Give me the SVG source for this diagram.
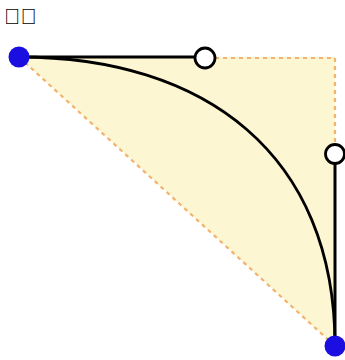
<svg xmlns="http://www.w3.org/2000/svg" width="345" height="360" viewBox="0 0 345 360">
<style>
.guide{fill:none;stroke:#f2b36e;stroke-width:2.2;stroke-dasharray:4 4}
.handle{stroke:#000;stroke-width:3;fill:none}
.curve{stroke:#000;stroke-width:2.8;fill:none}
.end{fill:#1a0fe0}
.ctrl{fill:#fff;stroke:#000;stroke-width:2.8}
.label{font-family:"Liberation Sans","Noto Sans CJK SC",sans-serif;font-size:22px;fill:#000}
</style>
<rect width="345" height="360" fill="#fff"/>
<text class="label" x="4" y="24">&#xE000;&#xE001;</text>
<g id="area">
<polygon points="19,57 335,57 335,346" fill="#fdf6d3"/>
</g>
<g id="connectors">
<path class="guide" d="M19,57 L335,346"/>
<path class="guide" d="M215,58 L335,58 L335,144"/>
<path class="handle" d="M19,57 L205,57"/>
<path class="handle" d="M335,154 L335,346"/>
<path class="curve" d="M19,57 C205,57 335,154 335,346"/>
</g>
<g id="p0"><circle class="end" cx="19" cy="57" r="10.5"/></g>
<g id="c1"><circle class="ctrl" cx="205" cy="58" r="10"/></g>
<g id="c2"><circle class="ctrl" cx="335" cy="154" r="9.5"/></g>
<g id="p3"><circle class="end" cx="335" cy="346" r="10.5"/></g>
</svg>
